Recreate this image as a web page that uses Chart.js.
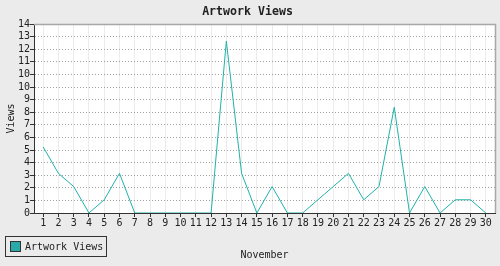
<!DOCTYPE html>
<html lang="en">
<head>
    <meta charset="UTF-8">
    <title>Artwork Views</title>
    <script src="https://cdn.jsdelivr.net/npm/chart.js"></script>
    <style>
        html, body {
            margin: 0;
            padding: 0;
            background-color: #ebebeb;
        }
        #chart {
            display: block;
        }
    </style>
</head>
<body>
    <canvas id="chart" width="500" height="266"></canvas>
    <script>
        // November days and view counts
        const days = [1, 2, 3, 4, 5, 6, 7, 8, 9, 10, 11, 12, 13, 14, 15, 16, 17, 18, 19, 20, 21, 22, 23, 24, 25, 26, 27, 28, 29, 30];
        const views = [5, 3, 2, 0, 1, 3, 0, 0, 0, 0, 0, 0, 13, 3, 0, 2, 0, 0, 1, 2, 3, 1, 2, 8, 0, 2, 0, 1, 1, 0];
        // y axis: 15 steps between 0 and 14.3, labels as printed (rounded)
        const yTickLabels = ['0', '1', '2', '3', '4', '5', '6', '7', '8', '9', '10', '10', '11', '12', '13', '14'];
        const yMax = 14.3;

        const fontFamily = '"DejaVu Sans Mono", monospace';
        const textColor = '#222';
        const lineColor = '#20b2aa';

        const frame = {
            id: 'frame',
            beforeDraw(chart) {
                const ctx = chart.ctx;
                const a = chart.chartArea;
                ctx.save();
                ctx.fillStyle = '#ebebeb';
                ctx.fillRect(0, 0, chart.width, chart.height);
                ctx.fillStyle = '#fff';
                ctx.fillRect(a.left, a.top, a.right - a.left, a.bottom - a.top);
                ctx.restore();
            },
            afterDraw(chart) {
                const ctx = chart.ctx;
                const a = chart.chartArea;
                ctx.save();
                // top and right border
                ctx.strokeStyle = '#a8a8a8';
                ctx.lineWidth = 1.5;
                ctx.beginPath();
                ctx.moveTo(a.left, a.top + 0.5);
                ctx.lineTo(a.right + 0.5, a.top + 0.5);
                ctx.lineTo(a.right + 0.5, a.bottom);
                ctx.stroke();

                // legend
                ctx.lineWidth = 1;
                ctx.strokeStyle = '#333';
                ctx.strokeRect(5.5, 236.5, 101, 20);
                ctx.fillStyle = '#2aa9a9';
                ctx.fillRect(10, 241, 11, 11);
                ctx.strokeRect(10.5, 241.5, 10, 10);
                ctx.fillStyle = textColor;
                ctx.font = '10px ' + fontFamily;
                ctx.textBaseline = 'middle';
                ctx.fillText(chart.data.datasets[0].label, 25, 247);
                ctx.restore();
            }
        };

        new Chart(document.getElementById('chart'), {
            type: 'line',
            data: {
                datasets: [{
                    label: 'Artwork Views',
                    data: days.map((d, i) => ({x: d, y: views[i]})),
                    borderColor: lineColor,
                    backgroundColor: lineColor,
                    borderWidth: 1,
                    pointRadius: 0,
                    tension: 0
                }]
            },
            options: {
                responsive: false,
                animation: false,
                devicePixelRatio: 1,
                events: [],
                layout: {
                    padding: {left: 0, right: 5, top: 0, bottom: 0}
                },
                plugins: {
                    legend: {display: false},
                    tooltip: {enabled: false},
                    title: {
                        display: true,
                        text: 'Artwork Views',
                        color: textColor,
                        font: {family: fontFamily, size: 11.6, weight: 'bold', lineHeight: 1.2},
                        padding: {top: 5, bottom: 5.08}
                    }
                },
                scales: {
                    x: {
                        type: 'linear',
                        min: 0.4,
                        max: 30.6,
                        afterBuildTicks: scale => {
                            scale.ticks = days.map(d => ({value: d}));
                        },
                        afterFit: scale => {
                            scale.height = 53;
                        },
                        ticks: {
                            color: textColor,
                            font: {family: fontFamily, size: 10},
                            padding: 0,
                            maxRotation: 0,
                            autoSkip: false,
                            callback: v => String(v)
                        },
                        grid: {
                            color: '#ececec',
                            lineWidth: 1,
                            tickColor: '#333',
                            tickLength: 4
                        },
                        border: {color: '#333', width: 1},
                        title: {
                            display: true,
                            text: 'November',
                            color: textColor,
                            font: {family: fontFamily, size: 10},
                            padding: {top: 0, bottom: 5}
                        }
                    },
                    y: {
                        min: 0,
                        max: yMax,
                        afterBuildTicks: scale => {
                            scale.ticks = yTickLabels.map((t, i) => ({value: i * yMax / (yTickLabels.length - 1)}));
                        },
                        afterFit: scale => {
                            scale.width = 34;
                        },
                        ticks: {
                            color: textColor,
                            font: {family: fontFamily, size: 10},
                            padding: 0,
                            autoSkip: false,
                            callback: (v, i) => yTickLabels[i]
                        },
                        grid: {
                            color: ctx => (ctx.index === 0 || ctx.index === yTickLabels.length - 1) ? 'rgba(0,0,0,0)' : '#a0a0a0',
                            lineWidth: 1,
                            tickColor: '#333',
                            tickLength: 4
                        },
                        border: {color: '#333', width: 1, dash: [1, 2]},
                        title: {
                            display: true,
                            text: 'Views',
                            color: textColor,
                            font: {family: fontFamily, size: 10},
                            padding: {top: 5, bottom: 0}
                        }
                    }
                }
            },
            plugins: [frame]
        });
    </script>
</body>
</html>
